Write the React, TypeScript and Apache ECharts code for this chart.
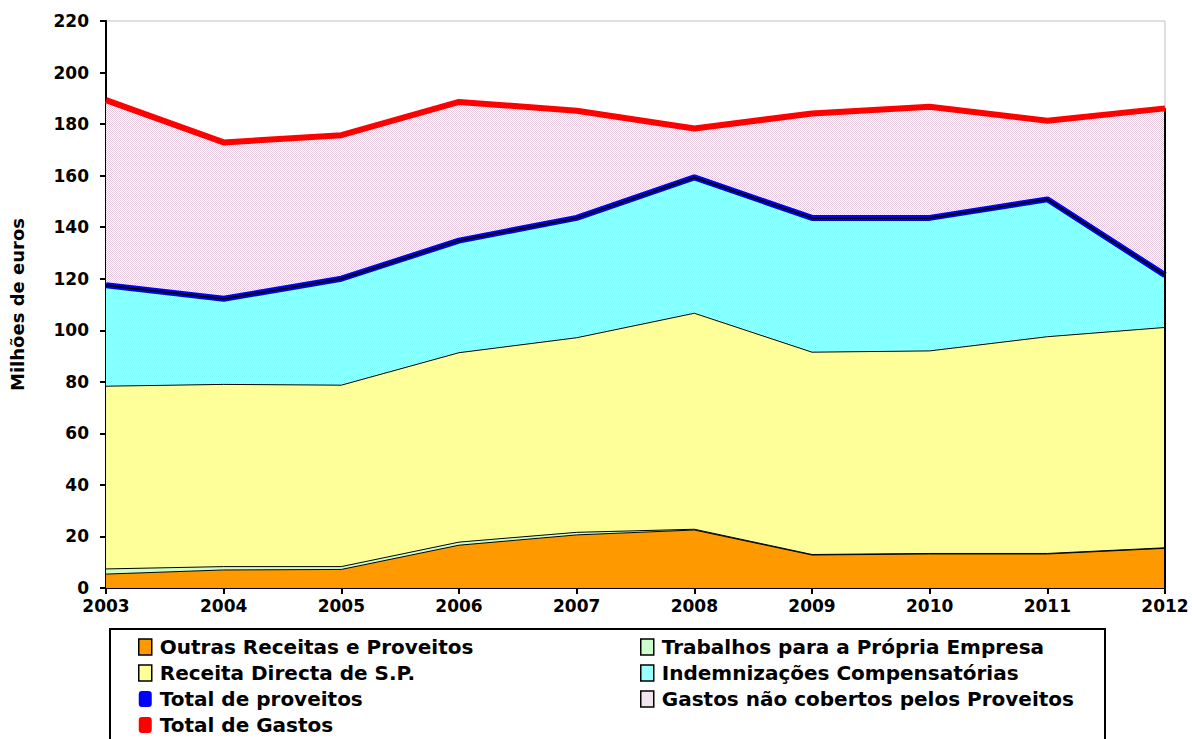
import React, { useEffect, useRef } from 'react';
import * as echarts from 'echarts';

const years = ['2003', '2004', '2005', '2006', '2007', '2008', '2009', '2010', '2011', '2012'];
const outrasReceitas = [5.4, 7.0, 7.2, 16.6, 20.6, 22.5, 12.8, 13.2, 13.2, 15.4];
const trabalhosPropria = [2.0, 1.3, 1.1, 1.2, 1.0, 0.3, 0.2, 0.2, 0.2, 0.2];
const receitaDirecta = [70.9, 70.7, 70.4, 73.5, 75.5, 83.8, 78.5, 78.6, 84.1, 85.5];
const indemnizacoes = [39.2, 33.2, 41.3, 43.5, 46.5, 52.7, 52.1, 51.6, 53.3, 20.3];
const totalProveitos = [117.5, 112.2, 120.0, 134.8, 143.6, 159.3, 143.6, 143.6, 150.8, 121.4];
const gastosNaoCobertos = [71.8, 60.7, 55.7, 53.8, 41.6, 19.0, 40.5, 43.1, 30.5, 64.7];
const totalGastos = [189.3, 172.9, 175.7, 188.6, 185.2, 178.3, 184.1, 186.7, 181.3, 186.1];

const FONT = '"DejaVu Sans", "Liberation Sans", Arial, sans-serif';

function makePattern(c1: string, c2: string): HTMLCanvasElement {
  const cv = document.createElement('canvas');
  cv.width = 2;
  cv.height = 2;
  const ctx = cv.getContext('2d')!;
  ctx.fillStyle = c2;
  ctx.fillRect(0, 0, 2, 2);
  ctx.fillStyle = c1;
  ctx.fillRect(0, 0, 1, 1);
  ctx.fillRect(1, 1, 1, 1);
  return cv;
}

export default function App() {
  const ref = useRef<HTMLDivElement>(null);
  useEffect(() => {
    document.body.style.margin = '0';
    const chart = echarts.init(ref.current!, undefined, { renderer: 'svg' });
    const cyanPat = { image: makePattern('#80ffff', '#c0ffff'), repeat: 'repeat' };
    const pinkPat = { image: makePattern('#e4c8dc', '#ffffff'), repeat: 'repeat' };
    const areaBase = (name: string, data: number[], fill: any, lw: number) => ({
      name,
      type: 'line',
      stack: 'total',
      data,
      showSymbol: false,
      symbol: 'none',
      areaStyle: { color: fill, opacity: 1 },
      lineStyle: { color: '#000', width: lw },
      itemStyle: { color: '#000' },
      z: 2,
    });
    const legendText = { fontFamily: FONT, fontWeight: 'bold', fontSize: 20, color: '#000', padding: [0, 0, 0, 3] };
    const option: any = {
      animation: false,
      grid: { left: 106, top: 21, right: 27, bottom: 151, show: true, borderColor: '#c0c0c0', borderWidth: 1 },
      xAxis: {
        type: 'category',
        data: years,
        boundaryGap: false,
        axisLine: { lineStyle: { color: '#000', width: 2 } },
        axisTick: { show: true, length: 6, lineStyle: { color: '#000', width: 2 } },
        axisLabel: { fontFamily: FONT, fontWeight: 'bold', fontSize: 17, color: '#000', margin: 9 },
        splitLine: { show: false },
      },
      yAxis: {
        type: 'value',
        min: 0,
        max: 220,
        interval: 20,
        name: 'Milhões de euros',
        nameLocation: 'middle',
        nameGap: 80,
        nameTextStyle: { fontFamily: FONT, fontWeight: 'bold', fontSize: 18, color: '#000' },
        axisLine: { show: true, lineStyle: { color: '#000', width: 2 } },
        axisTick: { show: true, length: 6, lineStyle: { color: '#000', width: 2 } },
        axisLabel: { fontFamily: FONT, fontWeight: 'bold', fontSize: 17, color: '#000', margin: 17 },
        splitLine: { show: false },
      },
      legend: [
        {
          orient: 'vertical',
          left: 138,
          top: 637,
          height: 110,
          itemWidth: 13,
          itemHeight: 16,
          itemGap: 6,
          padding: 0,
          textStyle: legendText,
          data: [
            { name: 'Outras Receitas e Proveitos', icon: 'rect', itemStyle: { color: '#ff9900', borderColor: '#000', borderWidth: 1.5 } },
            { name: 'Receita Directa de S.P.', icon: 'rect', itemStyle: { color: '#ffff99', borderColor: '#000', borderWidth: 1.5 } },
            { name: 'Total de proveitos', icon: 'roundRect', itemStyle: { color: '#0000ff', borderWidth: 0 } },
            { name: 'Total de Gastos', icon: 'roundRect', itemStyle: { color: '#ff0000', borderWidth: 0 } },
          ],
        },
        {
          orient: 'vertical',
          left: 640,
          top: 637,
          height: 110,
          itemWidth: 13,
          itemHeight: 16,
          itemGap: 6,
          padding: 0,
          textStyle: legendText,
          data: [
            { name: 'Trabalhos para a Própria Empresa', icon: 'rect', itemStyle: { color: '#ccffcc', borderColor: '#000', borderWidth: 1.5 } },
            { name: 'Indemnizações Compensatórias', icon: 'rect', itemStyle: { color: '#99ffff', borderColor: '#000', borderWidth: 1.5 } },
            { name: 'Gastos não cobertos pelos Proveitos', icon: 'rect', itemStyle: { color: '#f2e4ee', borderColor: '#000', borderWidth: 1.5 } },
          ],
        },
      ],
      series: [
        areaBase('Outras Receitas e Proveitos', outrasReceitas, '#ff9900', 1),
        areaBase('Trabalhos para a Própria Empresa', trabalhosPropria, '#ccffcc', 1),
        areaBase('Receita Directa de S.P.', receitaDirecta, '#ffff99', 1),
        areaBase('Indemnizações Compensatórias', indemnizacoes, cyanPat, 1.5),
        areaBase('Gastos não cobertos pelos Proveitos', gastosNaoCobertos, pinkPat, 1),
        {
          name: 'Total de proveitos',
          type: 'line',
          data: totalProveitos,
          showSymbol: false,
          symbol: 'none',
          lineStyle: { color: '#0000ff', width: 6 },
          itemStyle: { color: '#0000ff' },
          z: 3,
        },
        {
          name: 'proveitosEdge',
          type: 'line',
          data: totalProveitos,
          showSymbol: false,
          symbol: 'none',
          silent: true,
          lineStyle: { color: '#000', width: 2 },
          itemStyle: { color: '#000' },
          z: 4,
        },
        {
          name: 'Total de Gastos',
          type: 'line',
          data: totalGastos,
          showSymbol: false,
          symbol: 'none',
          lineStyle: { color: '#ff0000', width: 6 },
          itemStyle: { color: '#ff0000' },
          z: 5,
        },
      ],
    };
    chart.setOption(option);
    const last = years.length - 1;
    const pTop = chart.convertToPixel({ gridIndex: 0 }, [years[last], totalGastos[last]]) as number[];
    const pBot = chart.convertToPixel({ gridIndex: 0 }, [years[last], 0]) as number[];
    chart.setOption({
      graphic: [
        {
          type: 'line',
          shape: { x1: pTop[0], y1: pTop[1], x2: pBot[0], y2: pBot[1] },
          style: { stroke: '#000', lineWidth: 2 },
          z: 4,
        },
        {
          type: 'rect',
          shape: { x: 110, y: 629, width: 995, height: 140 },
          style: { fill: 'none', stroke: '#000', lineWidth: 2 },
          z: 0,
        },
      ],
    });
    return () => chart.dispose();
  }, []);
  return <div ref={ref} style={{ width: 1192, height: 739 }} />;
}
